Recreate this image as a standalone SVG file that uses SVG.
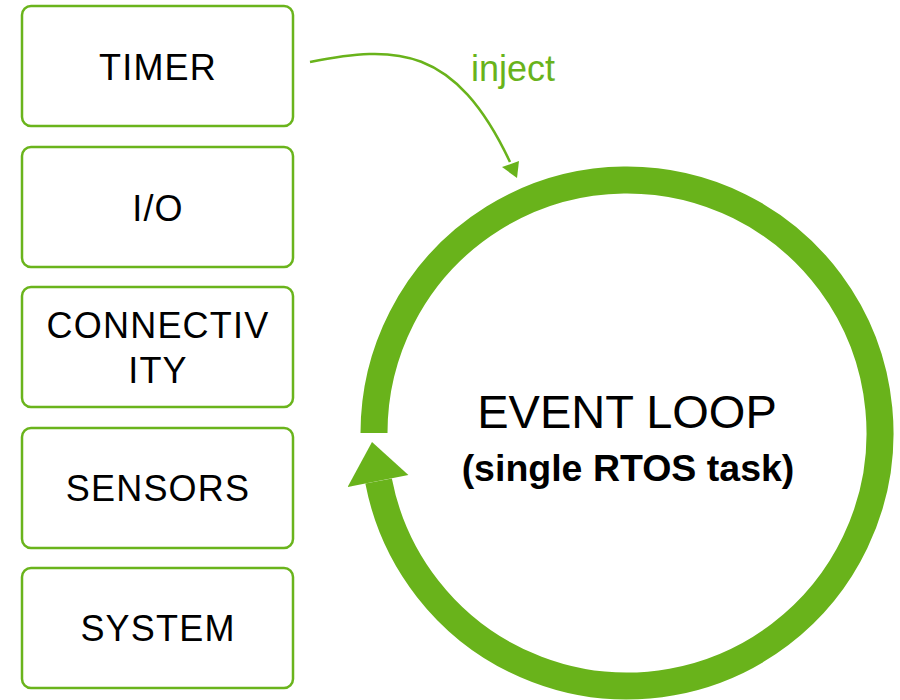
<svg xmlns="http://www.w3.org/2000/svg" width="900" height="700" viewBox="0 0 900 700">
<style>
.box{fill:#fff;stroke:#6ab41c;stroke-width:2.5}
.lbl{font-family:"Liberation Sans",Arial,sans-serif;font-size:36px;fill:#000;text-anchor:middle;letter-spacing:1.2px}
.title{font-family:"Liberation Sans",Arial,sans-serif;font-size:47px;fill:#000;text-anchor:middle}
.sub{font-family:"Liberation Sans",Arial,sans-serif;font-size:37.5px;font-weight:bold;fill:#000;text-anchor:middle}
.inj{font-family:"Liberation Sans",Arial,sans-serif;font-size:36px;fill:#69b31b}
</style>
<rect width="900" height="700" fill="#fff"/>
<g id="timer"><rect class="box" x="22" y="6" width="271" height="120" rx="9"/><text class="lbl" x="158" y="80">TIMER</text></g>
<g id="io"><rect class="box" x="22" y="147" width="271" height="120" rx="9"/><text class="lbl" x="158" y="221">I/O</text></g>
<g id="connectivity"><rect class="box" x="22" y="287" width="271" height="120" rx="9"/><text class="lbl" x="158" y="338">CONNECTIV</text><text class="lbl" x="158" y="383">ITY</text></g>
<g id="sensors"><rect class="box" x="22" y="428" width="271" height="120" rx="9"/><text class="lbl" x="158" y="501">SENSORS</text></g>
<g id="system"><rect class="box" x="22" y="568" width="271" height="120" rx="9"/><text class="lbl" x="158" y="641">SYSTEM</text></g>
<g id="event-loop">
<path d="M374 433 A253 253 0 1 1 378.6 481" fill="none" stroke="#69b31b" stroke-width="27"/>
<polygon points="347.6,486.9 372,442 408.4,475.1" fill="#69b31b"/>
<text class="title" x="627" y="428">EVENT LOOP</text>
<text class="sub" x="628" y="481">(single RTOS task)</text>
</g>
<g id="connectors">
<path d="M310 62 C395 45 455 45 510 162" fill="none" stroke="#69b31b" stroke-width="2.5"/>
<polygon points="502,167 517,178 519,161" fill="#69b31b"/>
<text class="inj" x="471" y="81">inject</text>
</g>
</svg>
